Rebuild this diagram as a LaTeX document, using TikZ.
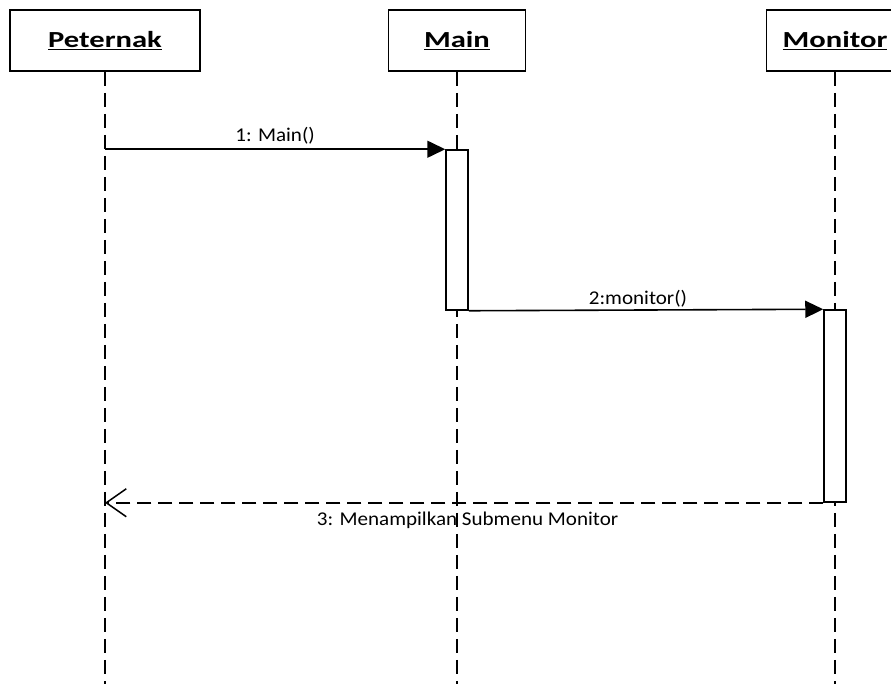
\documentclass[tikz,border=0pt]{standalone}
\usepackage{fontspec}
\setmainfont{Carlito}
\newfontfamily\headfont[FakeStretch=1.33]{Carlito}
\newfontfamily\labelfont[FakeStretch=1.08]{Carlito}
\usetikzlibrary{arrows.meta}
\begin{document}
\begin{tikzpicture}[x=1pt,y=-1pt,
  head/.style={draw,line width=1.8pt,fill=white,minimum height=61pt,inner sep=0pt,
    font=\headfont\fontsize{23}{26}\selectfont\bfseries},
  life/.style={line width=1.5pt,dash pattern=on 14pt off 7pt},
  act/.style={draw,line width=1.5pt,fill=white,minimum width=22pt,inner sep=0pt},
  msg/.style={line width=1.6pt,-{Triangle[length=18pt,width=17pt]}},
  ret/.style={line width=1.6pt,dash pattern=on 14pt off 7pt,
    -{Straight Barb[length=20pt,width=28pt,line width=1.5pt]}},
  lbl/.style={font=\labelfont\fontsize{19.5}{22}\selectfont,anchor=base,inner sep=0pt}]
\useasboundingbox (0,0) rectangle (891,684);
\begin{scope}
\clip (0,0) rectangle (891,684);
% lifeline heads
\node[head,minimum width=190pt] (p) at (105,40.5) {\underline{Peternak}};
\node[head,minimum width=137pt] (m) at (457,40.5) {\underline{Main}};
\node[head,minimum width=137pt] (mo) at (835,40.5) {\underline{Monitor}};
% lifeline ends
\coordinate (pe) at (105,684);
\coordinate (me) at (457,684);
\coordinate (moe) at (835,684);
\draw[life] (p.south) -- (pe);
\draw[life] (m.south) -- (me);
\draw[life] (mo.south) -- (moe);
% activation bars
\node[act,minimum height=160pt] (am) at (457,230) {};
\node[act,minimum height=192pt] (amo) at (835,406) {};
% messages
\draw[msg] (p.south |- am.north west) -- node[lbl,yshift=8pt] {1: Main()} (am.north west);
\draw[msg] (am.south east) -- node[lbl,xshift=-8pt,yshift=5pt] {2:monitor()} (amo.north west);
\draw[ret] (amo.south west) -- node[lbl,xshift=3.5pt,yshift=-23pt] {3: Menampilkan Submenu Monitor} (p.south |- amo.south west);
\end{scope}
\end{tikzpicture}
\end{document}
